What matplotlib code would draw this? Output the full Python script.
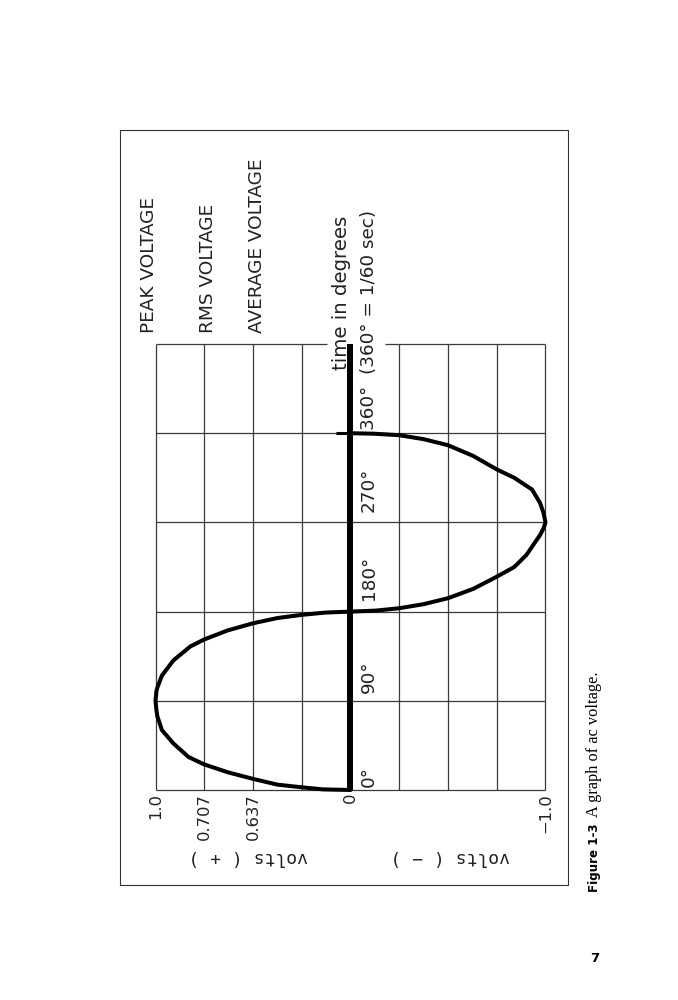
import matplotlib.pyplot as plt
from matplotlib.patches import Rectangle

# grid of the sketch: voltage lines (schematic spacing) and time lines in degrees
volt_grid = [1.0, 0.75, 0.5, 0.25, 0.0, -0.25, -0.5, -0.75, -1.0]
deg_grid = [0, 90, 180, 270, 360, 450]

volt_ticks = [1.0, 0.75, 0.5, 0.0, -1.0]
volt_labels = ["1.0", "0.707", "0.637", "0", "−1.0"]
deg_ticks = [0, 90, 180, 270, 360]
deg_labels = ["0°", "90°", "180°", "270°", "360°  (360° = 1/60 sec)"]
level_names = ["PEAK VOLTAGE", "RMS VOLTAGE", "AVERAGE VOLTAGE"]

# one cycle of the wave as drawn (degrees, volts)
wave_deg = [0, 0.6, 2.7, 5.4, 11.2, 17.9, 25.8, 33.2, 46.9, 60.4, 74, 80, 90,
            100, 103.6, 115.5, 130.8, 145, 151.9, 161, 168.2, 173.5, 176.7, 179, 180,
            181, 183.4, 187.5, 193.5, 203, 215.2, 225, 237.1, 257.2, 264, 270,
            279.6, 289.7, 303.2, 315, 323.5, 337, 347.9, 354, 358, 359.5, 360]
wave_volt = [0, 0.14, 0.25, 0.375, 0.5, 0.63, 0.75, 0.83, 0.908, 0.967, 0.99, 0.995, 1.0,
             0.995, 0.99, 0.967, 0.908, 0.82, 0.75, 0.63, 0.5, 0.375, 0.25, 0.13, 0,
             -0.13, -0.25, -0.375, -0.5, -0.63, -0.75, -0.84, -0.902, -0.972, -0.99, -1.0,
             -0.99, -0.972, -0.931, -0.84, -0.75, -0.63, -0.5, -0.375, -0.25, -0.12, 0]

W, H = 678, 1000
fig = plt.figure(figsize=(W / 100, H / 100), dpi=100)


def fx(px):
    return px / W


def fy(py):
    return 1 - py / H


# page frame around the figure
fig.add_artist(Rectangle((fx(120), fy(885)), fx(568) - fx(120), fy(130) - fy(885),
                         transform=fig.transFigure, fill=False, lw=0.8, ec="#333333"))

ax = fig.add_axes([0.2006, 0.1902, 0.6327, 0.4856])
ax.set_xlim(1.1, -1.1)
ax.set_ylim(-20, 470)
ax.axis("off")

grid_kw = dict(color="#3a3a3a", lw=0.9)
for v in volt_grid:
    ax.vlines(v, deg_grid[0], deg_grid[-1], **grid_kw)
for d in deg_grid[:-1]:
    ax.hlines(d, volt_grid[0], volt_grid[-1], **grid_kw)
# top line is broken where the time caption crosses it
ax.hlines(deg_grid[-1], volt_grid[0], 0.12, **grid_kw)
ax.hlines(deg_grid[-1], -0.177, volt_grid[-1], **grid_kw)

# heavy time axis and the wave
ax.vlines(0, deg_grid[0], deg_grid[-1], color="black", lw=4.3)
ax.hlines(360, 0, 0.075, color="black", lw=2.2)
ax.plot(wave_volt, wave_deg, color="black", lw=2.9, solid_capstyle="round",
        solid_joinstyle="round")

txt = dict(color="#222222", rotation=90)

for v, lab in zip(volt_ticks, volt_labels):
    ax.text(v, -3, lab, ha="center", va="top", fontsize=11.8, **txt)

label_y = [3, 98, 192, 280, 363]
for y, lab in zip(label_y, deg_labels):
    ax.text(-0.095, y, lab, ha="center", va="bottom", fontsize=13.2, **txt)

ax.text(0.044, 424, "time in degrees", ha="center", va="bottom", fontsize=14.2, **txt)

level_x = [1.035, 0.73, 0.48]
for x, name in zip(level_x, level_names):
    ax.text(x, 461, name, ha="center", va="bottom", fontsize=13.3, **txt)

# polarity captions, printed upside down
fig.text(fx(248), fy(857), "volts ( + )", rotation=180, ha="center", va="center",
         family="DejaVu Sans Mono", fontsize=13, color="#222222")
fig.text(fx(450), fy(857), "volts ( − )", rotation=180, ha="center", va="center",
         family="DejaVu Sans Mono", fontsize=13, color="#222222")

# figure caption and page number
fig.text(fx(598), fy(892), "Figure 1-3", rotation=90, rotation_mode="anchor",
         ha="left", va="baseline", family="DejaVu Sans", weight="bold", fontsize=8.6)
fig.text(fx(598), fy(817), "A graph of ac voltage.", rotation=90, rotation_mode="anchor",
         ha="left", va="baseline", family="Liberation Serif", fontsize=11.8)
fig.text(fx(595), fy(958), "7", ha="center", va="center",
         family="DejaVu Sans", weight="bold", fontsize=9.5)

fig.savefig("out.png", dpi=100)
